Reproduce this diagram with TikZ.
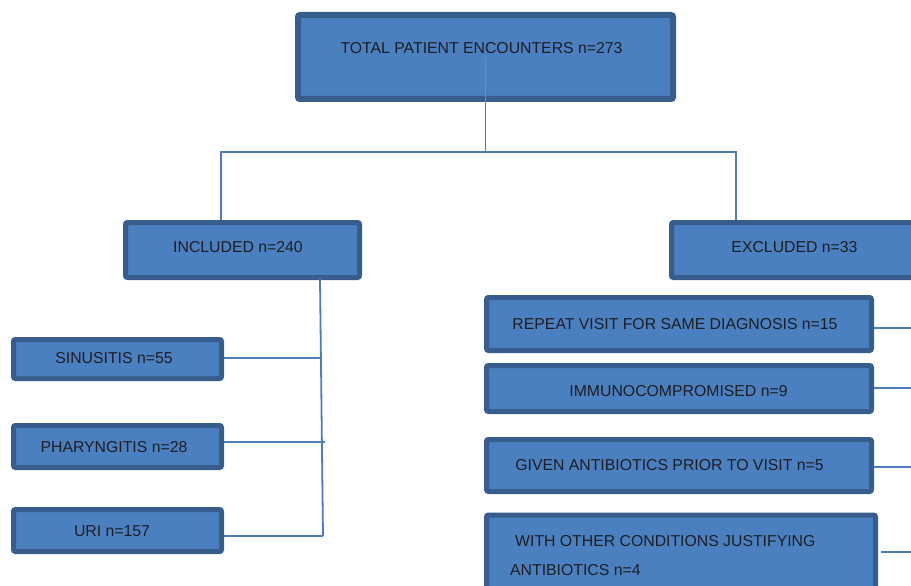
\documentclass[tikz,border=0pt]{standalone}
\usepackage{fontspec}
\setmainfont{Liberation Sans}
\definecolor{boxfill}{HTML}{4A80BF}
\definecolor{boxline}{HTML}{375D8C}
\definecolor{connc}{HTML}{4A7EC0}
\definecolor{connin}{HTML}{5F93D0}
\definecolor{txt}{HTML}{1E1E22}
\begin{document}
\begin{tikzpicture}[x=1pt,y=-1pt,
  box/.style={draw=boxline, fill=boxfill, line width=5pt, rounded corners=2pt, inner sep=0pt},
  lbl/.style={text=txt, font=\fontsize{15.8}{18}\selectfont, inner sep=0pt},
  conn/.style={draw=connc, line width=1.8pt}]
\useasboundingbox (0,0) rectangle (911,586);
\clip (0,0) rectangle (911,586);
% boxes
\node[box, line width=6pt, minimum width=375, minimum height=84] (top) at (485.5,57) {};
\node[box, minimum width=234, minimum height=55] (inc) at (242.5,250) {};
\node[box, minimum width=244, minimum height=55] (exc) at (793.5,250) {};
\node[box, minimum width=208, minimum height=39] (sin) at (117.5,359) {};
\node[box, minimum width=208, minimum height=42] (pha) at (117.5,446.5) {};
\node[box, minimum width=208, minimum height=42] (uri) at (117.5,530.5) {};
\node[box, minimum width=385, minimum height=53] (r1) at (679,324) {};
\node[box, minimum width=385, minimum height=46] (r2) at (679,388.5) {};
\node[box, minimum width=385, minimum height=52] (r3) at (679,465.5) {};
\node[box, minimum width=389, minimum height=90] (r4) at (681,560) {};
% connector points
\coordinate (jL) at (221,152);
\coordinate (jR) at (736,152);
\coordinate (t1) at (320,279);
\coordinate (b1) at (320.4,358);
\coordinate (b2) at (325,442);
\coordinate (b3) at (323,536);
\coordinate (s1) at (915,328);
\coordinate (s2) at (915,388);
\coordinate (s3) at (915,467);
\coordinate (s4) at (915,552);
\coordinate (s4a) at (881,552);
% connectors
\draw[draw=connin, line width=1.2pt] (top.center) -- (top.south);
\draw[conn] (top.south) |- (jL) -- (jL |- inc.north);
\draw[conn] (top.center |- jR) -- (jR) -- (jR |- exc.north);
\draw[conn] (t1) -- (b3);
\draw[conn] (sin.east |- b1) -- (b1);
\draw[conn] (pha.east |- b2) -- (b2);
\draw[conn] (uri.east |- b3) -- (b3);
\draw[conn] (r1.east |- s1) -- (s1);
\draw[conn] (r2.east |- s2) -- (s2);
\draw[conn] (r3.east |- s3) -- (s3);
\draw[conn] (s4a) -- (s4);
% labels
\node[lbl] at (481.5,48) {TOTAL PATIENT ENCOUNTERS n=273};
\node[lbl] at (238,247) {INCLUDED n=240};
\node[lbl] at (794.5,247) {EXCLUDED n=33};
\node[lbl] at (114,358) {SINUSITIS n=55};
\node[lbl] at (114,447) {PHARYNGITIS n=28};
\node[lbl] at (112,531) {URI n=157};
\node[lbl] at (675,324) {REPEAT VISIT FOR SAME DIAGNOSIS n=15};
\node[lbl] at (678.5,391) {IMMUNOCOMPROMISED n=9};
\node[lbl] at (669.5,465) {GIVEN ANTIBIOTICS PRIOR TO VISIT n=5};
\node[lbl, anchor=west] at (515,541) {WITH OTHER CONDITIONS JUSTIFYING};
\node[lbl, anchor=west] at (510,570) {ANTIBIOTICS n=4};
\end{tikzpicture}
\end{document}
